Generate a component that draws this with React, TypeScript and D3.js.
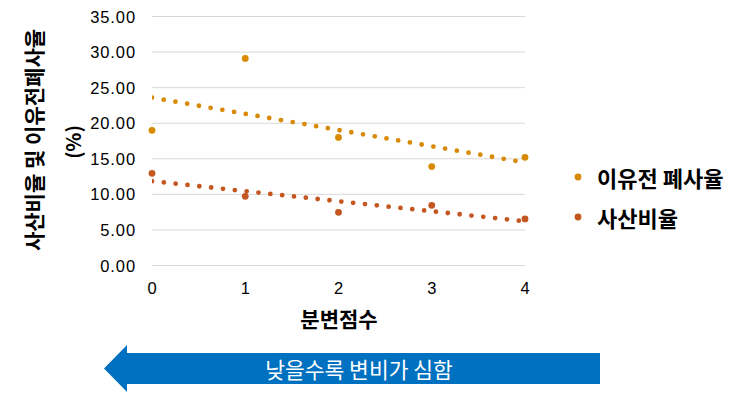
import React, { useEffect, useRef } from "react";
import * as d3 from "d3";

// 분변점수 (x categories)
const scores = [0, 1, 2, 3, 4];
// 이유전 폐사율 (%)
const weaningMortality = [19.0, 29.1, 18.0, 13.9, 15.2];
// 사산비율 (%)
const stillbirthRate = [12.96, 9.73, 7.48, 8.46, 6.54];
const yTicks = [0, 5, 10, 15, 20, 25, 30, 35];

const seriesList = [
  { name: "이유전 폐사율", values: weaningMortality, color: "#D88A05" },
  { name: "사산비율", values: stillbirthRate, color: "#C4561F" },
];

const KR = "'Noto Sans CJK KR', 'Noto Sans', sans-serif";
const NUM = "'Liberation Sans', Arial, sans-serif";

// simple least squares for the dotted trend lines
function linFit(xs: number[], ys: number[]) {
  const mx = d3.mean(xs) as number;
  const my = d3.mean(ys) as number;
  const num = d3.sum(xs, (x, i) => (x - mx) * (ys[i] - my));
  const den = d3.sum(xs, (x) => (x - mx) ** 2);
  const slope = num / den;
  return { slope, intercept: my - slope * mx };
}

export default function App() {
  const svgRef = useRef<SVGSVGElement>(null);

  useEffect(() => {
    const width = 746;
    const height = 395;
    const plot = { left: 152, right: 525, top: 16.5, bottom: 265.5 };

    const root = d3.select(svgRef.current);
    root.selectAll("*").remove();
    root.attr("width", width).attr("height", height);

    const x = d3.scaleLinear().domain([0, 4]).range([plot.left, plot.right]);
    const y = d3.scaleLinear().domain([0, 35]).range([plot.bottom, plot.top]);

    root.append("defs").append("clipPath").attr("id", "plot-clip")
      .append("rect")
      .attr("x", plot.left).attr("y", plot.top - 5)
      .attr("width", plot.right - plot.left + 5)
      .attr("height", plot.bottom - plot.top + 10);

    // gridlines
    root.append("g").selectAll("line").data(yTicks).enter().append("line")
      .attr("x1", plot.left).attr("x2", plot.right)
      .attr("y1", (d) => y(d)).attr("y2", (d) => y(d))
      .attr("stroke", "#D9D9D9").attr("stroke-width", 1);

    // y tick labels
    root.append("g").selectAll("text").data(yTicks).enter().append("text")
      .attr("x", 136).attr("y", (d) => y(d))
      .attr("text-anchor", "end").attr("dominant-baseline", "central")
      .style("font-family", NUM).style("font-size", "16.5px")
      .style("letter-spacing", "0.9px").attr("fill", "#000")
      .text((d) => d3.format(".2f")(d));

    // x tick labels
    root.append("g").selectAll("text").data(scores).enter().append("text")
      .attr("x", (d) => x(d)).attr("y", 288)
      .attr("text-anchor", "middle").attr("dominant-baseline", "central")
      .style("font-family", NUM).style("font-size", "16.5px").attr("fill", "#000")
      .text((d) => d);

    // axis titles
    root.append("text")
      .attr("transform", "translate(33,140) rotate(-90)")
      .attr("text-anchor", "middle").attr("dominant-baseline", "central")
      .style("font-family", KR).style("font-size", "21px").style("font-weight", 700)
      .text("사산비율 및 이유전폐사율");
    root.append("text")
      .attr("transform", "translate(72,142) rotate(-90)")
      .attr("text-anchor", "middle").attr("dominant-baseline", "central")
      .style("font-family", KR).style("font-size", "19.5px").style("font-weight", 700)
      .text("(%)");
    root.append("text")
      .attr("x", 339).attr("y", 318)
      .attr("text-anchor", "middle").attr("dominant-baseline", "central")
      .style("font-family", KR).style("font-size", "21px").style("font-weight", 700)
      .text("분변점수");

    // trend lines (dotted)
    const trend = root.append("g").attr("clip-path", "url(#plot-clip)");
    seriesList.forEach((s) => {
      const fit = linFit(scores, s.values);
      const line = d3.line<number>()
        .x((d) => x(d))
        .y((d) => y(fit.intercept + fit.slope * d));
      trend.append("path")
        .datum([0, 4])
        .attr("d", line)
        .attr("fill", "none")
        .attr("stroke", s.color)
        .attr("stroke-width", 4.8)
        .attr("stroke-linecap", "round")
        .attr("stroke-dasharray", "0 11.9");
    });

    // data points
    seriesList.forEach((s) => {
      root.append("g").selectAll("circle").data(s.values).enter().append("circle")
        .attr("cx", (d, i) => x(scores[i]))
        .attr("cy", (d) => y(d))
        .attr("r", 3.4)
        .attr("fill", s.color);
    });

    // legend
    const legend = root.append("g");
    seriesList.forEach((s, i) => {
      const ly = 177 + i * 40;
      legend.append("circle").attr("cx", 578).attr("cy", ly).attr("r", 3.4).attr("fill", s.color);
      legend.append("text")
        .attr("x", 597).attr("y", ly)
        .attr("dominant-baseline", "central")
        .style("font-family", KR).style("font-size", "22px").style("font-weight", 700)
        .text(s.name);
    });

    // arrow banner
    const arrow = d3.path();
    arrow.moveTo(104, 368.5);
    arrow.lineTo(127, 345);
    arrow.lineTo(127, 353);
    arrow.lineTo(600, 353);
    arrow.lineTo(600, 384);
    arrow.lineTo(127, 384);
    arrow.lineTo(127, 392);
    arrow.closePath();
    root.append("path").attr("d", arrow.toString()).attr("fill", "#0070C0");
    root.append("text")
      .attr("x", 359).attr("y", 368.5)
      .attr("text-anchor", "middle").attr("dominant-baseline", "central")
      .attr("fill", "#fff")
      .style("font-family", KR).style("font-size", "21.5px")
      .text("낮을수록 변비가 심함");
  }, []);

  return (
    <div style={{ position: "absolute", left: 0, top: 0, width: 746, height: 395, background: "#fff" }}>
      <svg ref={svgRef}></svg>
    </div>
  );
}
